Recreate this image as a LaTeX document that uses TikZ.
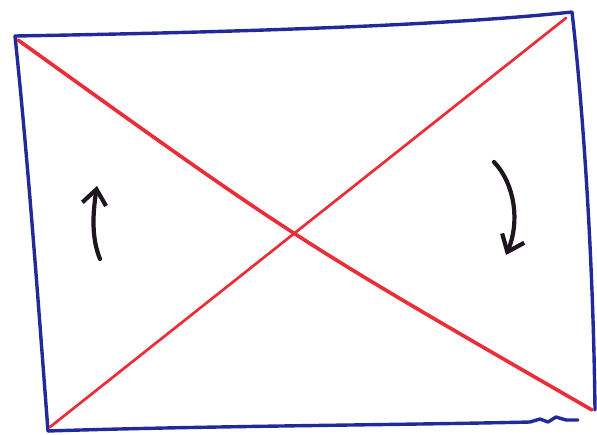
\documentclass[tikz,border=0pt]{standalone}
\definecolor{penblue}{RGB}{32,42,155}
\definecolor{penred}{RGB}{235,45,55}
\definecolor{penblack}{RGB}{30,22,30}
\usepackage{tikz}
\usetikzlibrary{arrows.meta}

\begin{document}
\begin{tikzpicture}[x=0.03cm, y=-0.03cm, line cap=round, line join=round,
    bluepen/.style={penblue, line width=2.9pt},
    redpen/.style={penred, line width=2.6pt},
    turnarrow/.style={penblack, line width=3.6pt, -{Straight Barb[length=0.45cm, width=0.72cm]}}]
    \useasboundingbox (0,0) rectangle (597,434);
    % frame corners
    \coordinate (tl) at (15,36);
    \coordinate (tr) at (572,12);
    \coordinate (br) at (595,410);
    \coordinate (bl) at (48,431);
    \coordinate (bend) at (578,420);
    % ends of the diagonals
    \coordinate (dtl) at (18,40);
    \coordinate (dtr) at (566,18);
    \coordinate (dbr) at (592,410);
    \coordinate (dbl) at (50,427);
    \draw[bluepen] (bl) .. controls (38,300) and (28,160) .. (tl)
        .. controls (250,32) and (450,25) .. (tr)
        .. controls (581,90) and (593,240) .. (br);
    \draw[bluepen] (bl) .. controls (200,426) and (400,425) .. (530,422)
        -- (540,419) -- (548,422) -- (556,417) -- (566,420) -- (bend);
    \draw[redpen, line width=3.1pt] (dtl) .. controls (295,239) .. (dbr);
    \draw[redpen, line width=2.3pt] (dtr) -- (dbl);
    \draw[turnarrow] (100,259) .. controls (91,237) and (93,212) .. (97,186);
    \draw[turnarrow] (494,162) .. controls (515,184) and (520,222) .. (506,255);
\end{tikzpicture}
\end{document}
